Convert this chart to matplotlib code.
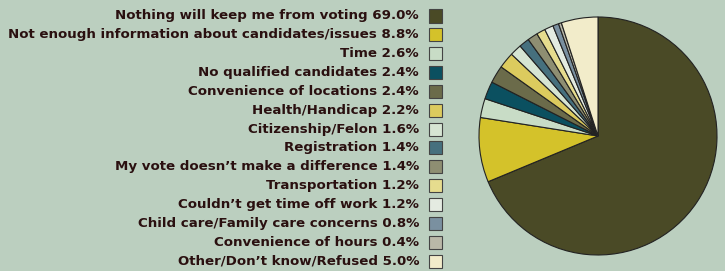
import matplotlib
matplotlib.use("Agg")
import matplotlib.pyplot as plt
from matplotlib.patches import Rectangle

# data
labels = [
    "Nothing will keep me from voting",
    "Not enough information about candidates/issues",
    "Time",
    "No qualified candidates",
    "Convenience of locations",
    "Health/Handicap",
    "Citizenship/Felon",
    "Registration",
    "My vote doesn\u2019t make a difference",
    "Transportation",
    "Couldn\u2019t get time off work",
    "Child care/Family care concerns",
    "Convenience of hours",
    "Other/Don\u2019t know/Refused",
]
values = [69.0, 8.8, 2.6, 2.4, 2.4, 2.2, 1.6, 1.4, 1.4, 1.2, 1.2, 0.8, 0.4, 5.0]
colors = [
    "#4a4a26", "#d4c22a", "#c8dcc6", "#0b5060", "#6b6b4a", "#dccb5e",
    "#d6e5d3", "#46707e", "#8e8e72", "#e6dc8e", "#e4ebe1", "#7a90a0",
    "#bab8a8", "#f2ecca",
]

bg = "#bbcfbf"
txt = "#2a1010"
W, H = 725, 271

fig = plt.figure(figsize=(W / 100, H / 100), dpi=100, facecolor=bg)

# pie on the right
ax = fig.add_axes([479 / W, 16 / H, 238 / W, 238 / H])
ax.set_facecolor(bg)
ax.pie(values, colors=colors, startangle=90, counterclock=False,
       wedgeprops=dict(edgecolor="#222222", linewidth=0.8))
ax.set_xlim(-1, 1)
ax.set_ylim(-1, 1)
ax.set_aspect("equal")
ax.axis("off")

# legend on the left, text right-aligned next to boxes
y0, step = 16, 18.85
for i, (lab, v, c) in enumerate(zip(labels, values, colors)):
    y = y0 + i * step
    fig.text(419 / W, 1 - y / H, f"{lab} {v:.1f}%", ha="right", va="center",
             fontsize=9.65, fontweight="bold", color=txt,
             family="DejaVu Sans")
    fig.patches.append(Rectangle(((429) / W, 1 - (y + 6.5) / H), 13 / W, 13 / H,
                                 transform=fig.transFigure, facecolor=c,
                                 edgecolor="#444444", linewidth=0.8))

fig.savefig("out.png", dpi=100, facecolor=bg)
